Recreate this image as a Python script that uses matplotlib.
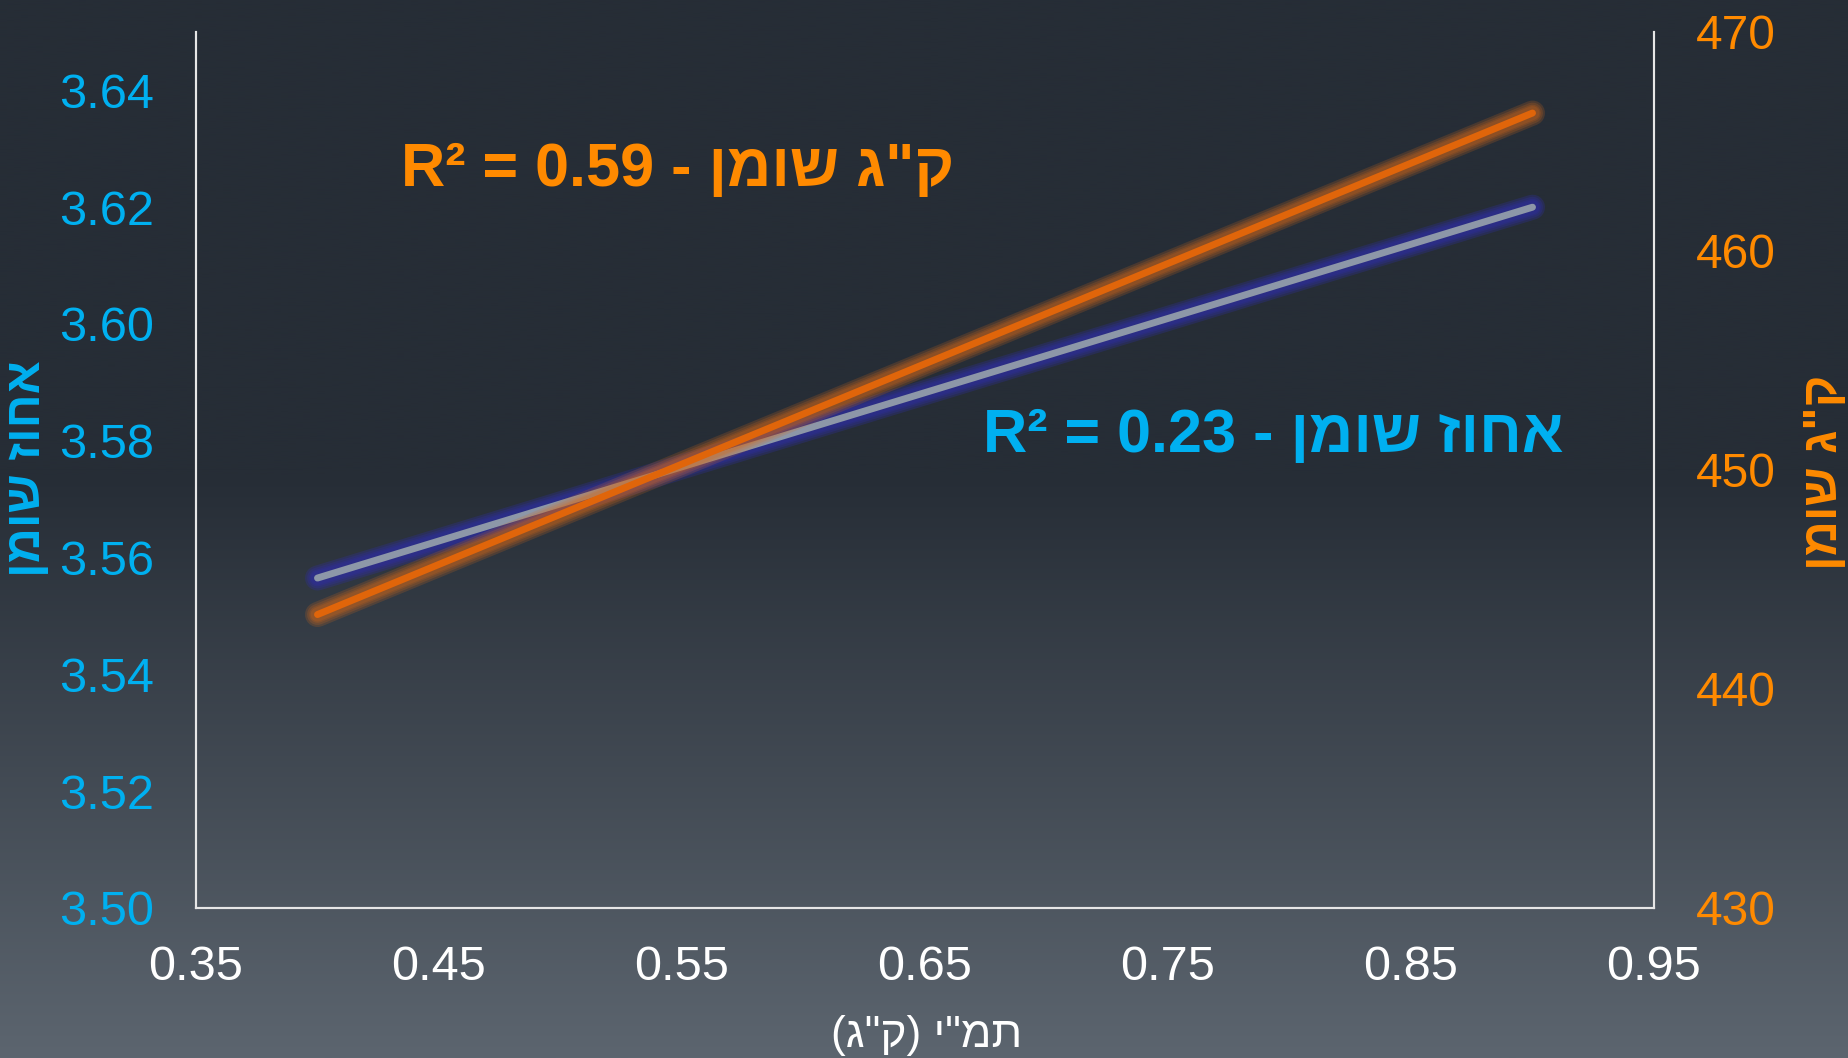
#!/usr/bin/env python3
"""
קווי מגמה: אחוז שומן וק"ג שומן מול תמ"י
"""
import numpy as np
import matplotlib
matplotlib.use('Agg')
import matplotlib.pyplot as plt
import matplotlib.patheffects as pe

# נתונים (קווי מגמה)
x_vals = [0.40, 0.90]
fat_pct = [3.5565, 3.620]
fat_kg = [443.4, 466.3]

x_ticks = [0.35, 0.45, 0.55, 0.65, 0.75, 0.85, 0.95]
left_ticks = [3.50, 3.52, 3.54, 3.56, 3.58, 3.60, 3.62, 3.64]
right_ticks = [430, 440, 450, 460, 470]

r2_pct = 0.23
r2_kg = 0.59

label_pct = 'אחוז שומן'
label_kg = 'ק"ג שומן'
label_x = 'תמ"י (ק"ג)'


def visual(s):
    # matplotlib אינו מבצע bidi - הופכים ידנית ומחליפים סוגריים
    out = s[::-1]
    return out.translate(str.maketrans('()', ')('))


def glow(color, widths=(18, 15, 12, 10), alpha=0.22):
    # הילה רכה: כמה קווים עבים שקופים זה על גבי זה
    effects = [pe.Stroke(linewidth=w, foreground=color, alpha=alpha) for w in widths]
    effects.append(pe.Normal())
    return effects


plt.rcParams['font.family'] = ['Liberation Sans', 'DejaVu Sans']

CYAN = '#00b0f0'
ORANGE = '#ff8a00'
W, H = 1849, 1058
fig = plt.figure(figsize=(W / 100, H / 100), dpi=100)

# רקע מדורג
bg = fig.add_axes([0, 0, 1, 1], zorder=-10)
t = np.linspace(0, 1, 400)
f = np.clip((t - 0.45) / 0.55, 0, 1)
top = np.array([38, 45, 54]) / 255
bot = np.array([92, 101, 111]) / 255
grad = top[None, :] * (1 - f[:, None]) + bot[None, :] * f[:, None]
bg.imshow(grad[:, None, :], aspect='auto', extent=[0, 1, 0, 1])
bg.axis('off')

ax = fig.add_axes([196 / W, 1 - 908 / H, (1654 - 196) / W, (908 - 32) / H])
ax.patch.set_alpha(0)
ax2 = ax.twinx()

ax.set_xlim(0.35, 0.95)
ax.set_ylim(3.50, 3.65)
ax2.set_ylim(430, 470)

ax.set_xticks(x_ticks)
ax.set_xticklabels([f'{v:.2f}' for v in x_ticks])
ax.set_yticks(left_ticks)
ax.set_yticklabels([f'{v:.2f}' for v in left_ticks])
ax2.set_yticks(right_ticks)

ax.tick_params(axis='x', length=0, pad=27, labelsize=35, labelcolor='white')
ax.tick_params(axis='y', length=0, pad=30, labelsize=35, labelcolor=CYAN)
ax2.tick_params(axis='y', length=0, pad=30, labelsize=34.5, labelcolor=ORANGE)

for a in (ax, ax2):
    a.spines['top'].set_visible(False)
    for side in ('left', 'right', 'bottom'):
        a.spines[side].set_color('#e6e6e6')
        a.spines[side].set_linewidth(1.5)

# קווים עם הילה
ax.plot(x_vals, fat_pct, color='#8d97a8', linewidth=5, solid_capstyle='round',
        path_effects=glow('#2e2ea0', alpha=0.3), zorder=3)
ax2.plot(x_vals, fat_kg, color='#e0650a', linewidth=5, solid_capstyle='round',
         path_effects=glow('#d86a18', alpha=0.2), zorder=4)

# תוויות R²
ax.text(0.1406, 0.824, f'R² = {r2_kg:.2f} - ' + visual(label_kg), transform=ax.transAxes,
        color=ORANGE, fontsize=44, fontweight='bold', ha='left', va='baseline')
ax.text(0.540, 0.5205, f'R² = {r2_pct:.2f} - ' + visual(label_pct), transform=ax.transAxes,
        color=CYAN, fontsize=44, fontweight='bold', ha='left', va='baseline')

# כותרות צירים
fig.text(28 / W, 1 - 469 / H, visual(label_pct), rotation=90, color=CYAN,
         fontsize=35, fontweight='bold', ha='center', va='center')
fig.text(1825 / W, 1 - 472 / H, visual(label_kg), rotation=90, color=ORANGE,
         fontsize=35, fontweight='bold', ha='center', va='center')
fig.text(927 / W, 1 - 1035 / H, visual(label_x), color='white',
         fontsize=32, ha='center', va='center')

fig.savefig('out.png', dpi=100)
